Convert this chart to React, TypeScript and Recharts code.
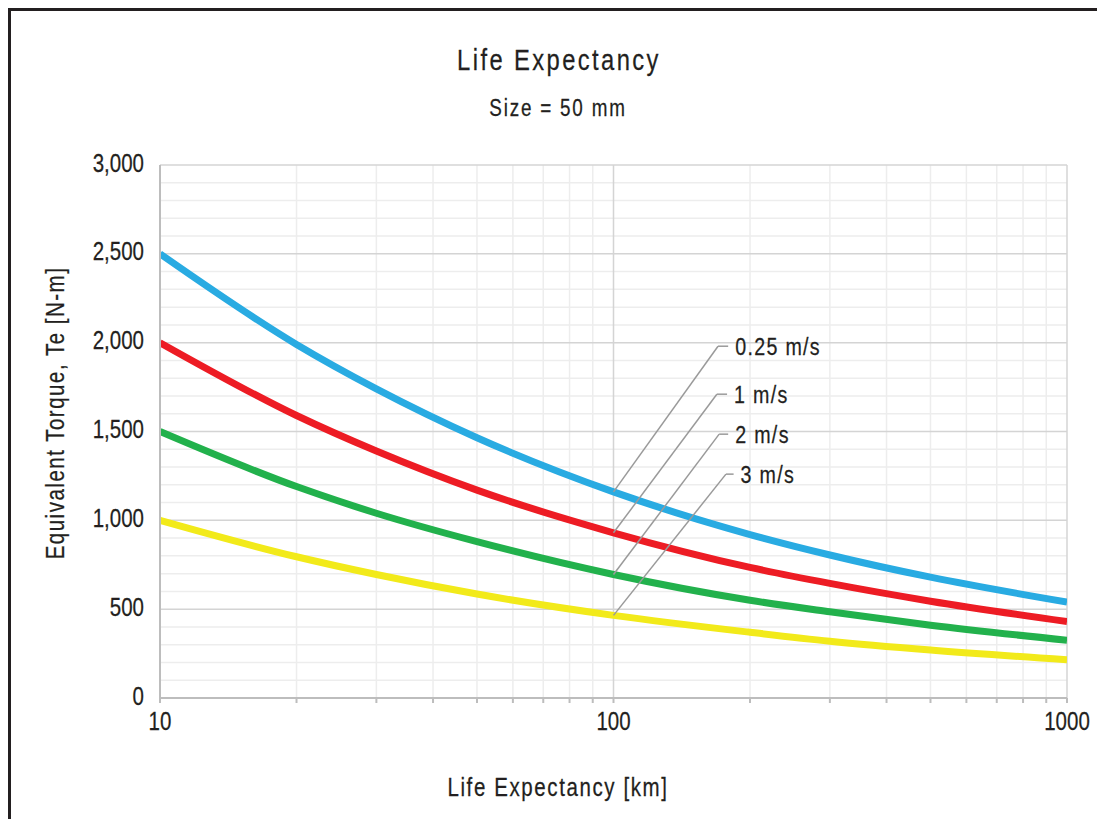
import React from 'react';
import {
  LineChart,
  Line,
  XAxis,
  YAxis,
  CartesianGrid,
  ReferenceLine,
  ReferenceDot,
} from 'recharts';

// ---- data ----
const lifeKm = [10, 20, 30, 50, 100, 200, 300, 500, 1000];
const torque025 = [2500, 1990, 1740, 1465, 1160, 920, 805, 680, 540];
const torque1 = [2000, 1590, 1390, 1170, 930, 735, 645, 545, 430];
const torque2 = [1500, 1190, 1040, 880, 695, 550, 485, 410, 325];
const torque3 = [1000, 795, 695, 585, 465, 370, 320, 270, 215];

const seriesNames = ['0.25 m/s', '1 m/s', '2 m/s', '3 m/s'];
const seriesKeys = ['s025', 's1', 's2', 's3'];
const seriesColors = ['#29ABE2', '#ED1C24', '#22B14C', '#F2EA1A'];
const seriesValues = [torque025, torque1, torque2, torque3];

const xTicks = [10, 20, 30, 40, 50, 60, 70, 80, 90, 100, 200, 300, 400, 500, 600, 700, 800, 900, 1000];
const xLabelTicks = [10, 100, 1000];
const xMinorGrid = [20, 30, 40, 50, 60, 70, 80, 90, 200, 300, 400, 500, 600, 700, 800, 900];
const xMajorGrid = [100, 1000];
const yTicks = [0, 500, 1000, 1500, 2000, 2500, 3000];
const yMinorGrid = [100, 200, 300, 400, 600, 700, 800, 900, 1100, 1200, 1300, 1400, 1600, 1700, 1800, 1900, 2100, 2200, 2300, 2400, 2600, 2700, 2800, 2900];
const yMajorGrid = [500, 1000, 1500, 2000, 2500, 3000];

// annotation leaders (data coordinates)
const annoStartX = 100;
const annoCornerX = [170, 169, 171, 177];
const annoEndX = [179, 178, 179, 184];
const annoY = [1980, 1710, 1485, 1260];

const titleText = 'Life Expectancy';
const subtitleText = 'Size = 50 mm';
const xTitle = 'Life Expectancy [km]';
const yTitle = 'Equivalent Torque, Te [N-m]';

const FONT = "'Liberation Sans', Arial, sans-serif";
const TEXT = '#231f20';
const SQUEEZE = 0.82;

const rows = lifeKm.map((x, i) => ({
  x,
  s025: torque025[i],
  s1: torque1[i],
  s2: torque2[i],
  s3: torque3[i],
}));

const startIdx = lifeKm.indexOf(annoStartX);

function NarrowText(props: {
  x: number;
  y: number;
  anchor?: 'start' | 'middle' | 'end';
  size: number;
  spacing?: number;
  rotate?: number;
  children: React.ReactNode;
}) {
  const { x, y, anchor = 'start', size, spacing = 0, rotate = 0, children } = props;
  const tf = `translate(${x},${y})${rotate ? ` rotate(${rotate})` : ''} scale(${SQUEEZE},1)`;
  return (
    <g transform={tf}>
      <text
        x={0}
        y={0}
        textAnchor={anchor}
        fontFamily={FONT}
        fontSize={size}
        letterSpacing={spacing / SQUEEZE}
        fill={TEXT}
        stroke={TEXT}
        strokeWidth={0.25}
      >
        {children}
      </text>
    </g>
  );
}

function XTick(p: any) {
  const v = p.payload?.value;
  if (!xLabelTicks.includes(v)) return <g />;
  return (
    <NarrowText x={p.x} y={p.y + 18} anchor="middle" size={25}>
      {String(v)}
    </NarrowText>
  );
}

function YTick(p: any) {
  const v = p.payload?.value as number;
  return (
    <NarrowText x={p.x} y={p.y + 6.5} anchor="end" size={25}>
      {v.toLocaleString('en-US')}
    </NarrowText>
  );
}

function makeLabelShape(text: string) {
  return (p: any) => (
    <NarrowText x={p.cx + 7} y={p.cy + 8.5} anchor="start" size={24} spacing={1.3}>
      {text}
    </NarrowText>
  );
}

export default function App() {
  return (
    <div
      style={{
        position: 'relative',
        width: 1097,
        height: 811,
        boxSizing: 'border-box',
        borderTop: '3px solid #231f20',
        borderLeft: '3px solid #231f20',
        background: '#fff',
        overflow: 'hidden',
      }}
    >
      <div style={{ position: 'absolute', left: -3, top: -3 }}>
        <LineChart
          width={1097}
          height={811}
          data={rows}
          margin={{ top: 157, right: 38, bottom: 91, left: 92 }}
        >
          <CartesianGrid
            stroke="#ededed"
            strokeWidth={1.5}
            horizontalValues={yMinorGrid}
            verticalValues={xMinorGrid}
          />
          <CartesianGrid
            stroke="#d4d4d4"
            strokeWidth={1.5}
            horizontalValues={yMajorGrid}
            verticalValues={xMajorGrid}
          />
          <XAxis
            dataKey="x"
            type="number"
            scale="log"
            domain={[10, 1000]}
            ticks={xTicks}
            interval={0}
            allowDataOverflow
            height={30}
            stroke="#bdbdbd"
            strokeWidth={2}
            tickSize={5}
            tickMargin={9}
            tick={XTick}
          />
          <YAxis
            type="number"
            domain={[0, 3000]}
            ticks={yTicks}
            interval={0}
            width={60}
            stroke="#bdbdbd"
            strokeWidth={2}
            tickLine={false}
            tickSize={0}
            tickMargin={16}
            tick={YTick}
          />
          {seriesKeys.map((k, i) => (
            <Line
              key={k}
              dataKey={k}
              name={seriesNames[i]}
              type="monotone"
              stroke={seriesColors[i]}
              strokeWidth={7}
              dot={false}
              activeDot={false}
              isAnimationActive={false}
            />
          ))}
          {seriesNames.map((n, i) => (
            <ReferenceLine
              key={'lead' + i}
              segment={[
                { x: annoStartX, y: seriesValues[i][startIdx] },
                { x: annoCornerX[i], y: annoY[i] },
              ]}
              stroke="#9a9a9a"
              strokeWidth={1.5}
              zIndex={1000}
            />
          ))}
          {seriesNames.map((n, i) => (
            <ReferenceLine
              key={'tail' + i}
              segment={[
                { x: annoCornerX[i], y: annoY[i] },
                { x: annoEndX[i], y: annoY[i] },
              ]}
              stroke="#9a9a9a"
              strokeWidth={1.5}
              zIndex={1000}
            />
          ))}
          {seriesNames.map((n, i) => (
            <ReferenceDot
              key={'lab' + i}
              x={annoEndX[i]}
              y={annoY[i]}
              r={0}
              zIndex={1000}
              shape={makeLabelShape(n)}
            />
          ))}
        </LineChart>
        <svg
          width={1097}
          height={811}
          style={{ position: 'absolute', left: 0, top: 0, pointerEvents: 'none' }}
        >
          <NarrowText x={551} y={62} anchor="middle" size={29} spacing={2.4}>
            {titleText}
          </NarrowText>
          <NarrowText x={550} y={108} anchor="middle" size={23} spacing={1.8}>
            {subtitleText}
          </NarrowText>
          <NarrowText x={550} y={788} anchor="middle" size={25} spacing={1.6}>
            {xTitle}
          </NarrowText>
          <NarrowText x={56} y={405} anchor="middle" size={25} spacing={1.5} rotate={-90}>
            {yTitle}
          </NarrowText>
        </svg>
      </div>
    </div>
  );
}
